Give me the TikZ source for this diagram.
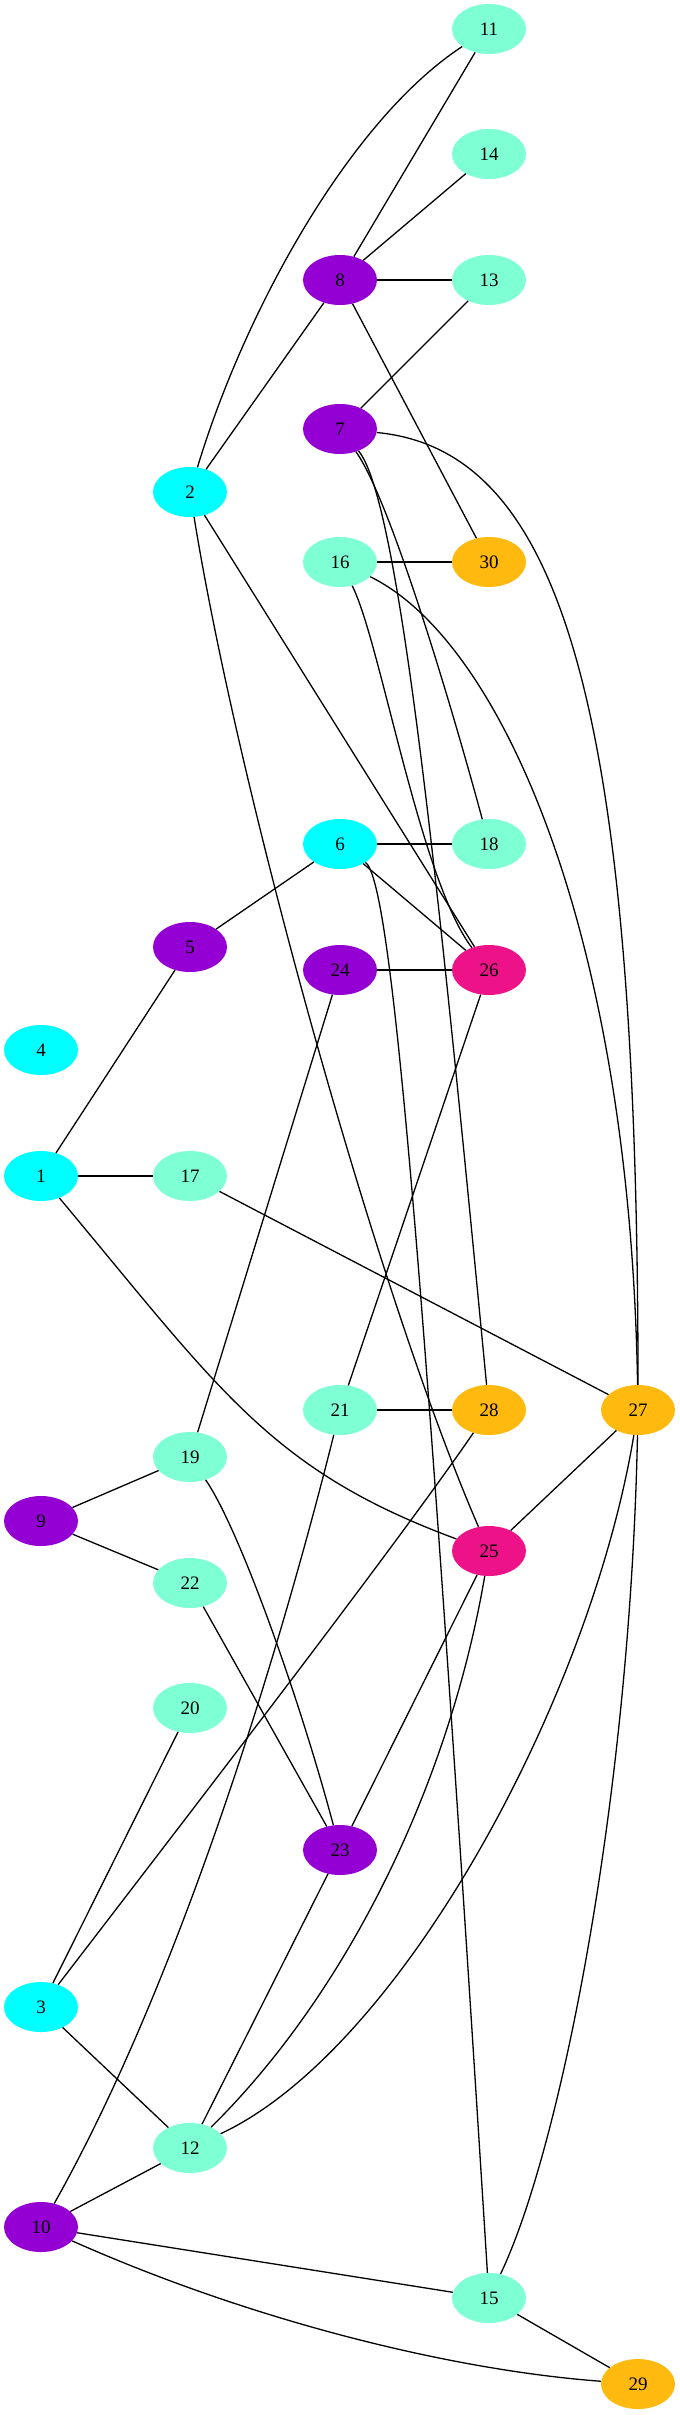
\documentclass[tikz,border=0pt]{standalone}
\usepackage{fontspec}
\setmainfont{Liberation Serif}
\usepackage{tikz}
\usetikzlibrary{shapes.geometric}

\definecolor{vcyan}{HTML}{00FFFF}
\definecolor{vviolet}{HTML}{9400D3}
\definecolor{vaqua}{HTML}{7FFFD4}
\definecolor{vgold}{HTML}{FFB90F}
\definecolor{vpink}{HTML}{EE1289}

\begin{document}
\begin{tikzpicture}[x=1pt, y=-1pt,
	vertex/.style={ellipse, minimum width=74pt, minimum height=50pt, inner sep=0pt, font=\fontsize{19}{19}\selectfont},
	cyanv/.style={vertex, fill=vcyan},
	violetv/.style={vertex, fill=vviolet},
	aquav/.style={vertex, fill=vaqua},
	goldv/.style={vertex, fill=vgold},
	pinkv/.style={vertex, fill=vpink},
	edge/.style={line width=1.3pt}]
	\useasboundingbox (0, 0) rectangle (680, 2415);

	\node [aquav] (v11) at (489, 29) {11};
	\node [aquav] (v14) at (489, 154) {14};
	\node [violetv] (v8) at (340, 280) {8};
	\node [aquav] (v13) at (489, 280) {13};
	\node [violetv] (v7) at (340, 429) {7};
	\node [cyanv] (v2) at (190, 492) {2};
	\node [aquav] (v16) at (340, 562) {16};
	\node [goldv] (v30) at (489, 562) {30};
	\node [cyanv] (v6) at (340, 844) {6};
	\node [aquav] (v18) at (489, 844) {18};
	\node [violetv] (v5) at (190, 947) {5};
	\node [violetv] (v24) at (340, 970) {24};
	\node [pinkv] (v26) at (489, 970) {26};
	\node [cyanv] (v4) at (41, 1050) {4};
	\node [cyanv] (v1) at (41, 1176) {1};
	\node [aquav] (v17) at (190, 1176) {17};
	\node [aquav] (v21) at (340, 1410) {21};
	\node [goldv] (v28) at (489, 1410) {28};
	\node [goldv] (v27) at (638, 1410) {27};
	\node [aquav] (v19) at (190, 1457) {19};
	\node [violetv] (v9) at (41, 1521) {9};
	\node [pinkv] (v25) at (489, 1551) {25};
	\node [aquav] (v22) at (190, 1583) {22};
	\node [aquav] (v20) at (190, 1708) {20};
	\node [violetv] (v23) at (340, 1850) {23};
	\node [cyanv] (v3) at (41, 2007) {3};
	\node [aquav] (v12) at (190, 2148) {12};
	\node [violetv] (v10) at (41, 2227) {10};
	\node [aquav] (v15) at (489, 2298) {15};
	\node [goldv] (v29) at (638, 2384) {29};

	\draw [edge] (v11) -- (v8);
	\draw [edge] (v2) .. controls (245, 310) and (350, 120) .. (v11);
	\draw [edge] (v14) -- (v8);
	\draw [edge] (v8) -- (v13);
	\draw [edge] (v8) -- (v2);
	\draw [edge] (v8) -- (v30);
	\draw [edge] (v13) -- (v7);
	\draw [edge] (v7) .. controls (560, 450) and (638, 700) .. (v27);
	\draw [edge] (v7) .. controls (390, 500) and (450, 700) .. (v18);
	\draw [edge] (v7) .. controls (400, 500) and (440, 900) .. (v28);
	\draw [edge] (v2) -- (v26);
	\draw [edge] (v2) .. controls (240, 800) and (380, 1300) .. (v25);
	\draw [edge] (v16) -- (v30);
	\draw [edge] (v16) .. controls (500, 640) and (630, 930) .. (v27);
	\draw [edge] (v16) .. controls (380, 640) and (420, 880) .. (v26);
	\draw [edge] (v6) -- (v18);
	\draw [edge] (v6) -- (v26);
	\draw [edge] (v6) -- (v5);
	\draw [edge] (v6) .. controls (390, 880) and (420, 1200) .. (v15);
	\draw [edge] (v24) -- (v26);
	\draw [edge] (v24) -- (v19);
	\draw [edge] (v5) -- (v1);
	\draw [edge] (v1) -- (v17);
	\draw [edge] (v1) .. controls (220, 1390) and (270, 1470) .. (v25);
	\draw [edge] (v17) -- (v27);
	\draw [edge] (v21) -- (v28);
	\draw [edge] (v21) -- (v26);
	\draw [edge] (v21) .. controls (280, 1650) and (180, 1980) .. (v10);
	\draw [edge] (v27) -- (v25);
	\draw [edge] (v27) .. controls (590, 1700) and (400, 2050) .. (v12);
	\draw [edge] (v27) .. controls (630, 1800) and (560, 2150) .. (v15);
	\draw [edge] (v19) -- (v9);
	\draw [edge] (v9) -- (v22);
	\draw [edge] (v19) .. controls (240, 1530) and (300, 1700) .. (v23);
	\draw [edge] (v22) -- (v23);
	\draw [edge] (v25) -- (v23);
	\draw [edge] (v25) .. controls (450, 1780) and (350, 1990) .. (v12);
	\draw [edge] (v20) -- (v3);
	\draw [edge] (v3) .. controls (200, 1800) and (400, 1540) .. (v28);
	\draw [edge] (v3) -- (v12);
	\draw [edge] (v23) -- (v12);
	\draw [edge] (v12) -- (v10);
	\draw [edge] (v10) -- (v15);
	\draw [edge] (v10) .. controls (250, 2320) and (450, 2370) .. (v29);
	\draw [edge] (v15) -- (v29);
\end{tikzpicture}
\end{document}
